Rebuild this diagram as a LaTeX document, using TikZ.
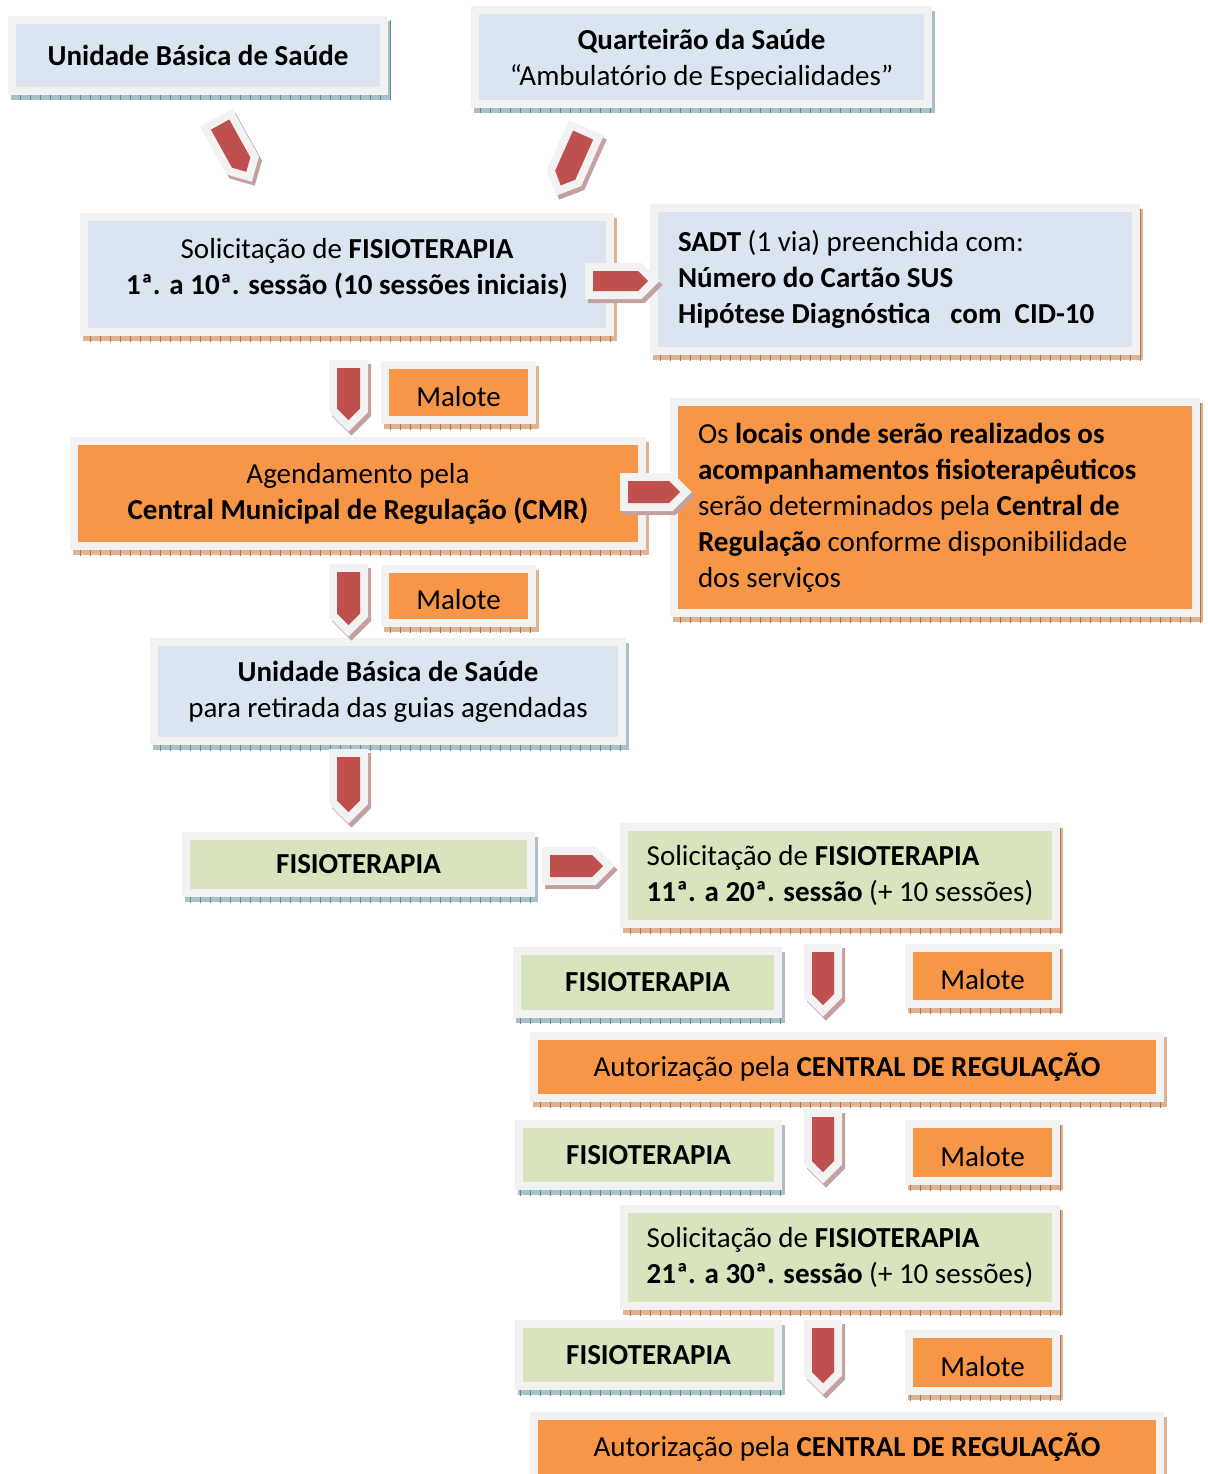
\documentclass[tikz,border=0pt]{standalone}
\usepackage{fontspec}
\setmainfont{Carlito}
\usetikzlibrary{shapes.arrows,patterns.meta}
\definecolor{frame}{HTML}{F2F2F2}
\definecolor{blueF}{HTML}{DBE5F1}
\definecolor{greenF}{HTML}{D7E4BD}
\definecolor{orangeF}{HTML}{F79646}
\definecolor{arrowred}{HTML}{C0504D}
\definecolor{tealS}{HTML}{A9C0C6}
\definecolor{tealT}{HTML}{5F8E99}
\definecolor{brownS}{HTML}{DDB393}
\definecolor{brownT}{HTML}{B5733F}
\definecolor{arrowS}{HTML}{C4A0A0}
\tikzset{
  every node/.style={font=\fontsize{29}{36}\selectfont},
  bx/.style n args={3}{rectangle, inner sep=0pt, fill=frame, align=center,
    path picture={\fill[#1] ([shift={(8pt,-8pt)}]path picture bounding box.north west) rectangle ([shift={(-8pt,8pt)}]path picture bounding box.south east);},
    preaction={fill=#2, transform canvas={shift={(3pt,-5pt)}}},
    preaction={pattern={Lines[angle=90,distance=10pt,line width=1pt]}, pattern color=#3, transform canvas={shift={(3pt,-5pt)}}}},
  bluebox/.style={bx={blueF}{tealS}{tealT}},
  bluebrown/.style={bx={blueF}{brownS}{brownT}},
  greenbox/.style={bx={greenF}{tealS}{tealT}},
  greenbrown/.style={bx={greenF}{brownS}{brownT}},
  orangebox/.style={bx={orangeF}{brownS}{brownT}},
  malote/.style={orangebox, text height=27pt, text depth=0pt},
  sz/.style 2 args={minimum width=#1pt, minimum height=#2pt},
  arw/.style n args={3}{single arrow, single arrow head extend=0pt, inner sep=0pt,
    minimum height=#1pt, minimum width=#2pt, rotate=#3, anchor=tail,
    fill=arrowred, line join=miter,
    preaction={draw=arrowS, fill=arrowS, line width=16pt, line join=miter, transform canvas={shift={(3pt,-4pt)}}},
    preaction={draw=frame, fill=frame, line width=16pt, line join=miter}}
}
\begin{document}
\begin{tikzpicture}[x=1pt,y=-1pt]
\useasboundingbox (0,0) rectangle (1207,1474);
\clip (0,0) rectangle (1207,1474);
% boxes
\node[bluebox, sz={380}{79}] (ubs1) at (198,55.5) {\textbf{Unidade Básica de Saúde}};
\node[bluebox, sz={461}{102}, text depth=0pt] (quart) at (701.5,57) {\textbf{Quarteirão da Saúde}\\“Ambulatório de Especialidades”};
\node[bluebrown, sz={534}{123}, text depth=17pt] (sol1) at (347,274.5) {Solicitação de \textbf{FISIOTERAPIA}\\\textbf{1ª. a 10ª. sessão (10 sessões iniciais)}};
\node[bluebrown, sz={490}{151}, align=flush left, text width=434pt] (sadt) at (895,279.5) {\textbf{SADT} (1 via) preenchida com:\\\textbf{Número do Cartão SUS}\\\textbf{Hipótese Diagnóstica\ \ \ com\ \ CID-10}};
\node[malote, sz={155}{63}] (mal1) at (458.5,392.5) {Malote};
\node[orangebox, sz={576}{113}] (agend) at (358,493.5) {Agendamento pela\\\textbf{Central Municipal de Regulação (CMR)}};
\node[orangebox, sz={530}{219}, align=flush left, text width=474pt] (locais) at (935,507.5) {Os \textbf{locais onde serão realizados os}\\\textbf{acompanhamentos fisioterapêuticos}\\serão determinados pela \textbf{Central de}\\\textbf{Regulação} conforme disponibilidade\\dos serviços};
\node[malote, sz={155}{62}] (mal2) at (458.5,596) {Malote};
\node[bluebox, sz={476}{107}] (ubs2) at (388,691.5) {\textbf{Unidade Básica de Saúde}\\para retirada das guias agendadas};
\node[greenbox, sz={353}{65}] (fis1) at (358.5,864.5) {\textbf{FISIOTERAPIA}};
\node[greenbrown, sz={440}{105}, align=left] (sol11) at (840,875.5) {Solicitação de \textbf{FISIOTERAPIA}\\\textbf{11ª. a 20ª. sessão} (+ 10 sessões)};
\node[greenbox, sz={269}{71}] (fis2) at (647.5,982.5) {\textbf{FISIOTERAPIA}};
\node[malote, sz={155}{64}] (mal3) at (982.5,976) {Malote};
\node[orangebox, sz={634}{70}] (aut1) at (847,1067) {Autorização pela \textbf{CENTRAL DE REGULAÇÃO}};
\node[greenbox, sz={267}{70}] (fis3) at (648.5,1155) {\textbf{FISIOTERAPIA}};
\node[malote, sz={155}{65}] (mal4) at (982.5,1152.5) {Malote};
\node[greenbrown, sz={440}{105}, align=left] (sol21) at (840,1257.5) {Solicitação de \textbf{FISIOTERAPIA}\\\textbf{21ª. a 30ª. sessão} (+ 10 sessões)};
\node[greenbox, sz={267}{70}] (fis4) at (648.5,1355) {\textbf{FISIOTERAPIA}};
\node[malote, sz={155}{65}] (mal5) at (982.5,1362.5) {Malote};
\node[orangebox, sz={634}{70}] (aut2) at (847,1447) {Autorização pela \textbf{CENTRAL DE REGULAÇÃO}};
% block arrows
\node[arw={54}{21}{-61}] (ar1) at (220,124.4) {};
\node[arw={55}{22}{-114}] (ar2) at (583.2,134.9) {};
\node[arw={55}{20}{0}] (ar3) at (593,281) {};
\node[arw={52}{23}{-90}] (ar4) at (348.5,368) {};
\node[arw={52}{22}{0}] (ar5) at (628,492) {};
\node[arw={53}{23}{-90}] (ar6) at (348.5,572) {};
\node[arw={55}{23}{-90}] (ar7) at (348.5,757) {};
\node[arw={53}{22}{0}] (ar8) at (550,866) {};
\node[arw={53}{22}{-90}] (ar9) at (823,952) {};
\node[arw={55}{22}{-90}] (ar10) at (823,1117) {};
\node[arw={55}{22}{-90}] (ar11) at (823,1328) {};
\end{tikzpicture}
\end{document}
